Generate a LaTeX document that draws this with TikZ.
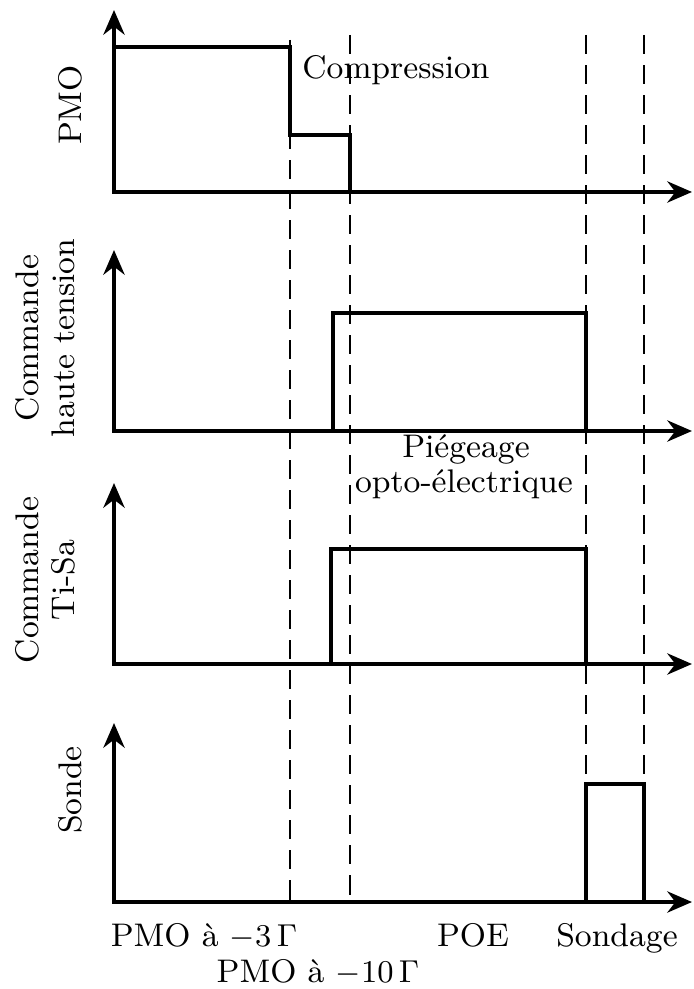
\documentclass[tikz,border=0pt]{standalone}
\usepackage{fontspec}
\usepackage{tikz}
\usetikzlibrary{arrows.meta}

\begin{document}
\begin{tikzpicture}[x=0.01cm, y=-0.01cm,
    axe/.style={line width=1.4pt, {Stealth[length=7pt,width=6pt]}-{Stealth[length=7pt,width=6pt]}},
    signal/.style={line width=0.9pt},
    repere/.style={line width=0.6pt, dash pattern=on 1.9mm off 1.1mm},
    etiquette/.style={font=\fontsize{9.3}{10.2}\selectfont, align=center, inner sep=0pt}]
  \useasboundingbox (0,0) rectangle (693,989);

  % reperes temporels
  \foreach \x/\ys in {290/40, 350/35, 586/35, 644/35}
    \draw[repere] (\x,\ys) -- (\x,902);

  % axes des quatre voies
  \foreach \yb/\yt in {192/10, 431/250, 664/483, 902/723}
    \draw[axe] (114,\yt) |- (692,\yb);

  % chronogrammes
  \draw[signal] (114,47) -- (290,47) -- (290,135) -- (350,135) -- (350,192);
  \draw[signal] (333,431) -- (333,313) -- (586,313) -- (586,431);
  \draw[signal] (331,664) -- (331,549) -- (586,549) -- (586,664);
  \draw[signal] (586,902) -- (586,784) -- (644,784) -- (644,902);

  % noms des voies
  \node[etiquette, rotate=90] (pmo) at (70,105) {PMO};
  \node[etiquette, rotate=90] (hautetension) at (45,338) {Commande\\haute tension};
  \node[etiquette, rotate=90] (tisa) at (45,580) {Commande\\Ti-Sa};
  \node[etiquette, rotate=90] (sonde) at (70,790) {Sonde};

  % phases
  \node[etiquette, anchor=base] (compression) at (396,79) {Compression};
  \node[etiquette, anchor=base] (piegeage) at (466,458) {Piégeage};
  \node[etiquette, anchor=base] (opto) at (464,493) {opto-électrique};
  \node[etiquette, anchor=base] (pmo3) at (204,946) {PMO à $-3\,\Gamma$};
  \node[etiquette, anchor=base] (pmo10) at (318,982) {PMO à $-10\,\Gamma$};
  \node[etiquette, anchor=base] (poe) at (473,946) {POE};
  \node[etiquette, anchor=base] (sondage) at (617,946) {Sondage};
\end{tikzpicture}
\end{document}
